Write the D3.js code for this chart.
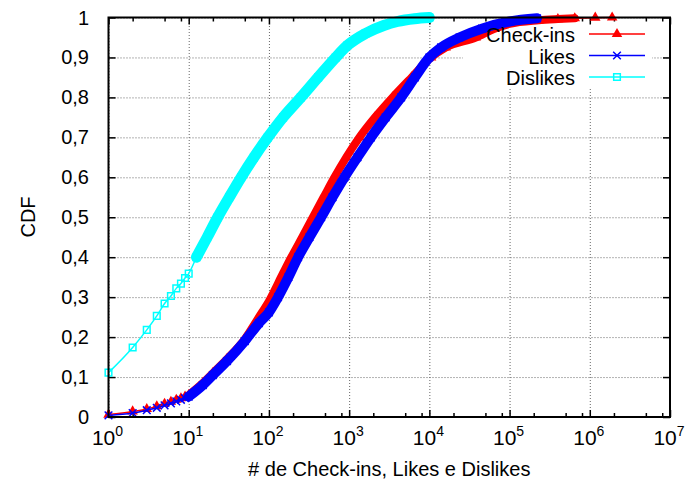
<!DOCTYPE html>
<html>
<head>
<meta charset="utf-8">
<script src="https://cdn.jsdelivr.net/npm/d3@7"></script>
<style>
body{margin:0;background:#fff;}
text{font-family:"Liberation Sans",Arial,sans-serif;fill:#000;}
</style>
</head>
<body>
<div id="chart"></div>
<script>
// values
var seriesNames = ["Check-ins", "Likes", "Dislikes"];

var checkinsX = [1,2,3,4,5,6,7,8,9,10,15,20,30,50,75,100,150,190,260,352,480,656,920,1343,2100,3480,6000,10500,16000,38000,65000,100000,230000,400000,650000,1170000,1900000];
var checkinsY = [0.006,0.014,0.02,0.027,0.033,0.038,0.043,0.047,0.051,0.055,0.085,0.11,0.145,0.195,0.25,0.29,0.36,0.4,0.45,0.5,0.55,0.6,0.65,0.7,0.75,0.8,0.85,0.9,0.925,0.95,0.972,0.984,0.993,0.996,0.998,0.9995,1];

var likesX = [1,2,3,4,5,6,7,8,9,10,15,20,30,50,75,100,130,175,231,320,448,620,874,1270,1870,2850,4450,6600,10000,14000,23700,45000,100000,220000];
var likesY = [0.004,0.01,0.017,0.023,0.029,0.034,0.039,0.043,0.047,0.051,0.08,0.105,0.14,0.19,0.235,0.262,0.3,0.35,0.4,0.45,0.5,0.55,0.6,0.65,0.7,0.75,0.8,0.85,0.9,0.925,0.95,0.972,0.99,0.998];

var dislikesX = [1,2,3,4,5,6,7,8,9,10,12.5,17,23,32,45,65,97,150,250,410,680,950,1600,2700,4000,6500,10000];
var dislikesY = [0.111,0.174,0.218,0.253,0.284,0.303,0.322,0.334,0.348,0.359,0.4,0.45,0.5,0.55,0.6,0.65,0.7,0.75,0.8,0.85,0.9,0.93,0.96,0.98,0.99,0.997,1];

var xTickValues = [1,10,100,1000,10000,100000,1000000,10000000];
var xTickExp = ["0","1","2","3","4","5","6","7"];
var xMinorMult = [2,5,8];
var yTickValues = [0,0.1,0.2,0.3,0.4,0.5,0.6,0.7,0.8,0.9,1];
var yTickLabels = ["0","0,1","0,2","0,3","0,4","0,5","0,6","0,7","0,8","0,9","1"];
var xTitle = "# de Check-ins, Likes e Dislikes";
var yTitle = "CDF";

var W = 689, H = 482;
var pLeft = 108.5, pRight = 670, pTop = 17.5, pBottom = 417;

var svg = d3.select("#chart").append("svg")
    .attr("width", W)
    .attr("height", H);

var x = d3.scaleLog().domain([1, 1e7]).range([pLeft, pRight]);
var y = d3.scaleLinear().domain([0, 1]).range([pBottom, pTop]);

// grid
var gx = svg.append("g").attr("transform", "translate(0," + pBottom + ")")
    .call(d3.axisBottom(x).tickValues(xTickValues).tickSize(-(pBottom - pTop)).tickFormat(""));
var gy = svg.append("g").attr("transform", "translate(" + pLeft + ",0)")
    .call(d3.axisLeft(y).tickValues(yTickValues).tickSize(-(pRight - pLeft)).tickFormat(""));
[gx, gy].forEach(function(g){
    g.select(".domain").remove();
    g.selectAll("line").attr("stroke", "#666").attr("stroke-width", 1).attr("stroke-dasharray", "1,2");
});

// legend box (opaque, hides the grid)
svg.append("rect").attr("x", 463).attr("y", 22).attr("width", 189).attr("height", 66).attr("fill", "#fff");

// ticks on all sides, inward
var minorTicks = [];
xTickValues.slice(0, -1).forEach(function(v){
    xMinorMult.forEach(function(m){ minorTicks.push(v * m); });
});
function tickLines(g){ g.select(".domain").remove(); g.selectAll("line").attr("stroke", "#000").attr("stroke-width", 1.5); }

svg.append("g").attr("transform", "translate(0," + pBottom + ")").call(d3.axisBottom(x).tickValues(xTickValues).tickSize(-7).tickFormat("")).call(tickLines);
svg.append("g").attr("transform", "translate(0," + pBottom + ")").call(d3.axisBottom(x).tickValues(minorTicks).tickSize(-4).tickFormat("")).call(tickLines);
svg.append("g").attr("transform", "translate(0," + pTop + ")").call(d3.axisTop(x).tickValues(xTickValues).tickSize(-7).tickFormat("")).call(tickLines);
svg.append("g").attr("transform", "translate(0," + pTop + ")").call(d3.axisTop(x).tickValues(minorTicks).tickSize(-4).tickFormat("")).call(tickLines);
svg.append("g").attr("transform", "translate(" + pLeft + ",0)").call(d3.axisLeft(y).tickValues(yTickValues).tickSize(-7).tickFormat("")).call(tickLines);
svg.append("g").attr("transform", "translate(" + pRight + ",0)").call(d3.axisRight(y).tickValues(yTickValues).tickSize(-7).tickFormat("")).call(tickLines);

// tick labels
svg.selectAll("text.xl").data(xTickValues).enter().append("text")
    .attr("class", "xl")
    .attr("x", function(d){ return x(d) - 1; })
    .attr("y", 445)
    .attr("text-anchor", "middle")
    .attr("font-size", 21)
    .each(function(d, i){
        var t = d3.select(this);
        t.append("tspan").text("10");
        t.append("tspan").attr("dy", -9).attr("font-size", 14).text(xTickExp[i]);
    });

svg.selectAll("text.yl").data(yTickValues).enter().append("text")
    .attr("class", "yl")
    .attr("x", 89)
    .attr("y", function(d){ return y(d) + 7; })
    .attr("text-anchor", "end")
    .attr("font-size", 20)
    .text(function(d, i){ return yTickLabels[i]; });

svg.append("text").attr("x", (pLeft + pRight) / 2).attr("y", 476)
    .attr("text-anchor", "middle").attr("font-size", 20).text(xTitle);
svg.append("text").attr("transform", "translate(35,217) rotate(-90)")
    .attr("text-anchor", "middle").attr("font-size", 20).text(yTitle);

// series: thin line, dense part drawn as a band like the packed markers
var series = [
    {name: seriesNames[0], xs: checkinsX, ys: checkinsY, color: "#ff0000", symbol: d3.symbolTriangle, size: 48, filled: true, band: 8, bandFrom: 9, bandTo: 34},
    {name: seriesNames[1], xs: likesX, ys: likesY, color: "#0000ff", symbol: d3.symbolTimes, size: 40, filled: false, band: 10, bandFrom: 9, bandTo: 33},
    {name: seriesNames[2], xs: dislikesX, ys: dislikesY, color: "#00ffff", symbol: d3.symbolSquare, size: 44, filled: false, band: 11, bandFrom: 10, bandTo: 26}
];

var line = d3.line().x(function(d){ return x(d[0]); }).y(function(d){ return y(d[1]); }).curve(d3.curveMonotoneX);

series.forEach(function(s){
    var pts = s.xs.map(function(v, i){ return [v, s.ys[i]]; });
    var g = svg.append("g");
    g.append("path").attr("d", line(pts)).attr("fill", "none").attr("stroke", s.color).attr("stroke-width", 1.5);
    g.append("path").attr("d", line(pts.slice(s.bandFrom, s.bandTo + 1)))
        .attr("fill", "none").attr("stroke", s.color).attr("stroke-width", s.band)
        .attr("stroke-linecap", "round").attr("stroke-linejoin", "round");
    var sym = d3.symbol().type(s.symbol).size(s.size);
    g.selectAll("path.m").data(pts).enter().append("path")
        .attr("class", "m")
        .attr("transform", function(d){ return "translate(" + x(d[0]) + "," + y(d[1]) + ")"; })
        .attr("d", sym)
        .attr("fill", s.filled ? s.color : "none")
        .attr("stroke", s.color)
        .attr("stroke-width", s.filled ? 0 : 1.5);
});

// border
svg.append("rect").attr("x", pLeft).attr("y", pTop).attr("width", pRight - pLeft).attr("height", pBottom - pTop)
    .attr("fill", "none").attr("stroke", "#000").attr("stroke-width", 2);

// legend
series.forEach(function(s, i){
    var ly = 34 + i * 21.5;
    svg.append("text").attr("x", 575).attr("y", ly + 8).attr("text-anchor", "end").attr("font-size", 20).text(s.name);
    svg.append("line").attr("x1", 589).attr("x2", 645).attr("y1", ly).attr("y2", ly)
        .attr("stroke", s.color).attr("stroke-width", 1.5);
    svg.append("path").attr("transform", "translate(617," + ly + ")")
        .attr("d", d3.symbol().type(s.symbol).size(s.size))
        .attr("fill", s.filled ? s.color : "none")
        .attr("stroke", s.color)
        .attr("stroke-width", s.filled ? 0 : 1.5);
});
</script>
</body>
</html>
